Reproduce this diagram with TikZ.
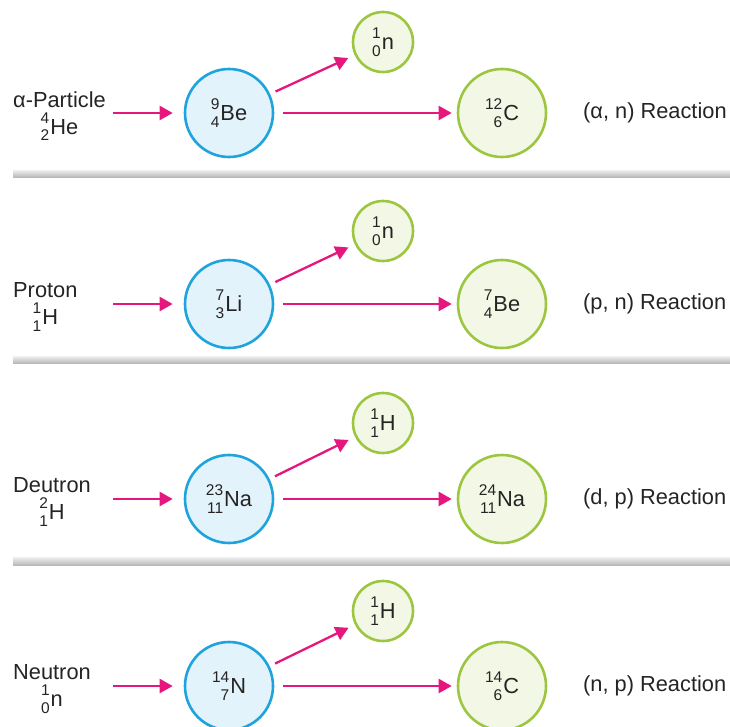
\documentclass[tikz,border=0pt]{standalone}
\usepackage{fontspec}
\setmainfont{Liberation Sans}
\usetikzlibrary{arrows.meta}
\definecolor{arr}{HTML}{E5177E}
\definecolor{bline}{HTML}{1FA3DC}
\definecolor{bfill}{HTML}{E2F3FB}
\definecolor{gline}{HTML}{9CC640}
\definecolor{gfill}{HTML}{F3F8E6}
\definecolor{txt}{HTML}{262324}
\newcommand\nuc[3]{\begingroup\fontsize{15.5}{15.5}\selectfont\setbox0\hbox{#1}\setbox2\hbox{#2}%
\ifdim\wd0>\wd2 \dimen0=\wd0 \else \dimen0=\wd2 \fi
\hbox to\dimen0{\hss\raise11pt\box0}\kern-\dimen0\hbox to\dimen0{\hss\lower6.5pt\box2}\endgroup\kern1pt #3}
\tikzset{
  base/.style={text=txt, font=\fontsize{21.8}{27}\selectfont, inner sep=0pt},
  target/.style={base, circle, draw=bline, fill=bfill, line width=2.6pt, minimum size=88pt},
  product/.style={base, circle, draw=gline, fill=gfill, line width=2.6pt, minimum size=88pt},
  emitted/.style={base, circle, draw=gline, fill=gfill, line width=2.6pt, minimum size=60pt},
  lbl/.style={base, align=center, anchor=west},
  rlbl/.style={base, anchor=west},
  flow/.style={draw=arr, line width=2.3pt, -{Triangle[length=13pt,width=14pt]}},
  sep/.style={top color=gray!12, bottom color=gray!55, draw=none}
}
\begin{document}
\begin{tikzpicture}[x=1pt,y=-1pt]
\useasboundingbox (0,0) rectangle (730,726);
% separators
\fill[sep] (13,170) rectangle (730,177);
\fill[sep] (13,356) rectangle (730,363);
\fill[sep] (13,557) rectangle (730,565);

% row 1
\node[lbl] (l1) at (13,116) {α-Particle\\\nuc{4}{2}{He}};
\coordinate (s1) at (113,113);
\node[target] (t1) at (229,113) {\nuc{9}{4}{Be}};
\node[emitted] (e1) at (383,42) {\nuc{1}{0}{n}};
\node[product] (p1) at (502,113) {\nuc{12}{6}{C}};
\node[rlbl] (r1) at (583,113) {(α, n) Reaction};
\draw[flow, shorten >=11pt] (s1) -- (t1);
\draw[flow, shorten <=6pt, shorten >=7pt] (t1) -- (e1);
\draw[flow, shorten <=9pt, shorten >=5pt] (t1) -- (p1);

% row 2
\node[lbl] (l2) at (13,307) {Proton\\\nuc{1}{1}{H}};
\coordinate (s2) at (113,304);
\node[target] (t2) at (229,304) {\nuc{7}{3}{Li}};
\node[emitted] (e2) at (383,231) {\nuc{1}{0}{n}};
\node[product] (p2) at (502,304) {\nuc{7}{4}{Be}};
\node[rlbl] (r2) at (583,304) {(p, n) Reaction};
\draw[flow, shorten >=11pt] (s2) -- (t2);
\draw[flow, shorten <=6pt, shorten >=7pt] (t2) -- (e2);
\draw[flow, shorten <=9pt, shorten >=5pt] (t2) -- (p2);

% row 3
\node[lbl] (l3) at (13,502) {Deutron\\\nuc{2}{1}{H}};
\coordinate (s3) at (113,499);
\node[target] (t3) at (229,499) {\nuc{23}{11}{Na}};
\node[emitted] (e3) at (383,423) {\nuc{1}{1}{H}};
\node[product] (p3) at (502,499) {\nuc{24}{11}{Na}};
\node[rlbl] (r3) at (583,499) {(d, p) Reaction};
\draw[flow, shorten >=11pt] (s3) -- (t3);
\draw[flow, shorten <=6pt, shorten >=7pt] (t3) -- (e3);
\draw[flow, shorten <=9pt, shorten >=5pt] (t3) -- (p3);

% row 4
\node[lbl] (l4) at (13,689) {Neutron\\\nuc{1}{0}{n}};
\coordinate (s4) at (113,686);
\node[target] (t4) at (229,686) {\nuc{14}{7}{N}};
\node[emitted] (e4) at (383,611) {\nuc{1}{1}{H}};
\node[product] (p4) at (502,686) {\nuc{14}{6}{C}};
\node[rlbl] (r4) at (583,686) {(n, p) Reaction};
\draw[flow, shorten >=11pt] (s4) -- (t4);
\draw[flow, shorten <=6pt, shorten >=7pt] (t4) -- (e4);
\draw[flow, shorten <=9pt, shorten >=5pt] (t4) -- (p4);
\end{tikzpicture}
\end{document}
